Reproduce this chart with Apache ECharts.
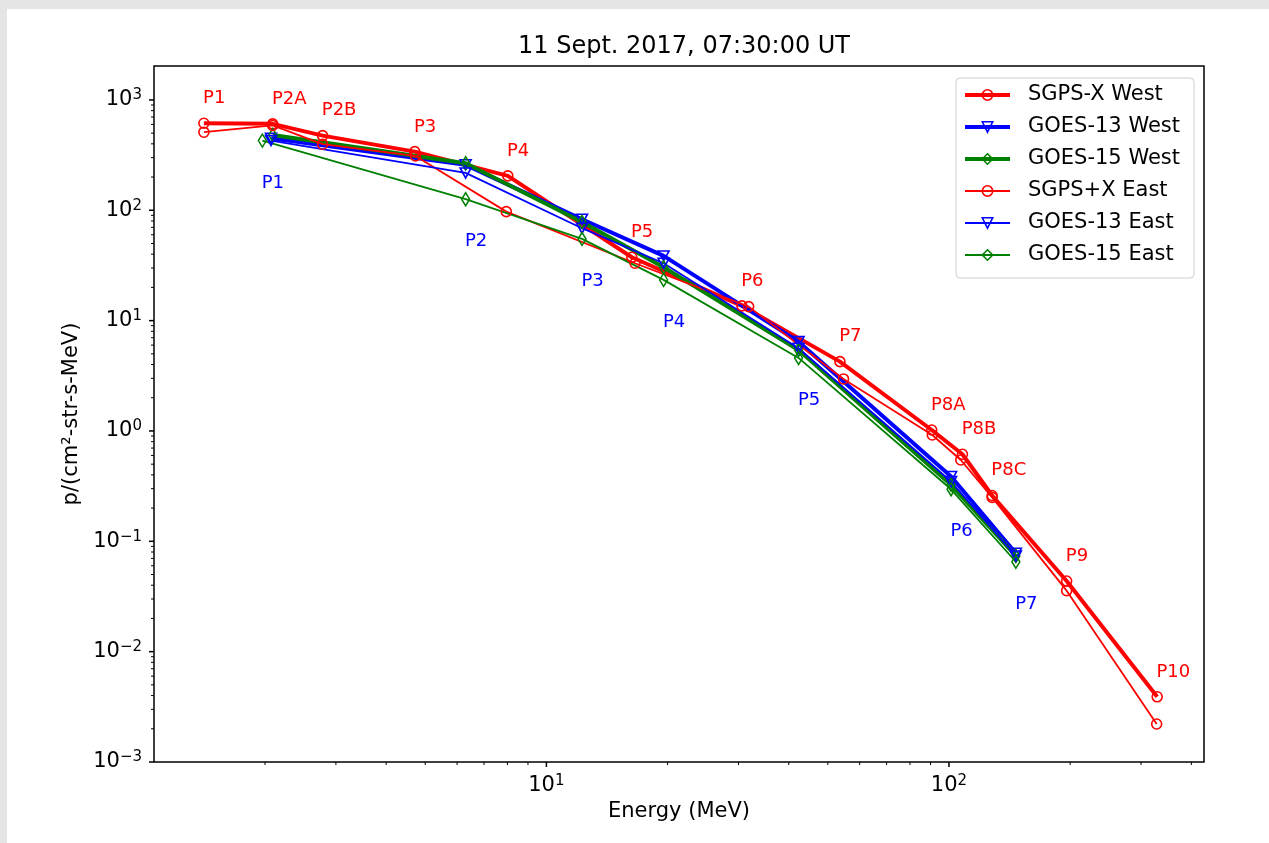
<!DOCTYPE html>
<html><head><meta charset="utf-8">
<script src="https://cdn.jsdelivr.net/npm/echarts@6/dist/echarts.min.js"></script>
<style>html,body{margin:0;padding:0;background:#fff}#c{width:1269px;height:843px}</style>
</head><body><div id="c"></div>
<script>
// ---- data ----
const titleText = '11 Sept. 2017, 07:30:00 UT';
const seriesNames = ['SGPS-X West', 'GOES-13 West', 'GOES-15 West', 'SGPS+X East', 'GOES-13 East', 'GOES-15 East'];

const sgpsChannels = ['P1', 'P2A', 'P2B', 'P3', 'P4', 'P5', 'P6', 'P7', 'P8A', 'P8B', 'P8C', 'P9', 'P10'];
const sgpsWestEnergy = [1.41, 2.09, 2.78, 4.71, 8.02, 16.3, 30.6, 53.6, 90.6, 108, 128, 196, 329];
const sgpsWestFlux   = [615, 607, 475, 340, 205, 37.5, 13.6, 4.25, 1.02, 0.615, 0.26, 0.0437, 0.0039];
const sgpsEastEnergy = [1.41, 2.09, 2.78, 4.73, 7.95, 16.6, 31.8, 54.7, 90.9, 107, 128, 196, 328];
const sgpsEastFlux   = [510, 587, 397, 311, 97.2, 33.1, 13.4, 2.96, 0.92, 0.546, 0.25, 0.0357, 0.00221];

const goesChannels = ['P1', 'P2', 'P3', 'P4', 'P5', 'P6', 'P7'];
const goes13Energy = [2.07, 6.30, 12.26, 19.55, 42.3, 101.2, 146.6];
const goes13WestFlux = [450, 258, 83, 38.6, 6.45, 0.386, 0.078];
const goes13EastFlux = [428, 218, 68.8, 33.1, 5.62, 0.348, 0.0736];
const goes15WestEnergy = [2.09, 6.30, 12.26, 19.55, 42.3, 101.2, 146.6];
const goes15WestFlux = [482, 267, 78.4, 30.5, 5.42, 0.325, 0.0736];
const goes15EastEnergy = [1.97, 6.30, 12.26, 19.55, 42.3, 101.2, 146.6];
const goes15EastFlux = [428, 126, 55, 23.4, 4.59, 0.296, 0.0653];

const xMajorTicks = [10, 100];
const xMinorTicks = [2, 3, 4, 5, 6, 7, 8, 9, 20, 30, 40, 50, 60, 70, 80, 90, 200, 300, 400];
const yMajorTicks = [0.001, 0.01, 0.1, 1, 10, 100, 1000];
const yMinorTicks = [0.002, 0.003, 0.004, 0.005, 0.006, 0.007, 0.008, 0.009,
  0.02, 0.03, 0.04, 0.05, 0.06, 0.07, 0.08, 0.09,
  0.2, 0.3, 0.4, 0.5, 0.6, 0.7, 0.8, 0.9,
  2, 3, 4, 5, 6, 7, 8, 9,
  20, 30, 40, 50, 60, 70, 80, 90,
  200, 300, 400, 500, 600, 700, 800, 900];

// ---- chart ----
const FONT = 'DejaVu Sans';
const RED = '#ff0000', BLUE = '#0000ff', GREEN = '#008000';
const TRI_DOWN = 'path://M0,0L12,0L6,10.4Z';
const THICK = 4, THIN = 1.8;

function pairs(xs, ys, names) {
  return xs.map((x, i) => ({ value: [x, ys[i]], name: names ? names[i] : '' }));
}
function powLabel(v) {
  const e = Math.log10(v), r = Math.round(e);
  if (Math.abs(e - r) > 1e-6) return '';
  const s = r < 0 ? '\u2212' + (-r) : String(r);
  return '{b|10}{s|' + s + '}';
}
const richPow = {
  b: { fontSize: 21, fontFamily: FONT, color: '#000', lineHeight: 24 },
  s: { fontSize: 15, fontFamily: FONT, color: '#000', lineHeight: 16, verticalAlign: 'top' }
};

function lineSeries(name, data, color, width, symbol, symbolSize, label) {
  return {
    name, type: 'line', data,
    symbol, symbolSize,
    lineStyle: { color, width },
    itemStyle: { color: 'rgba(255,255,255,0)', borderColor: color, borderWidth: 1.6 },
    label: label || { show: false },
    emphasis: { disabled: true },
    animation: false, z: 3
  };
}

const sgpsLabel = {
  show: true, formatter: '{b}', color: RED, fontSize: 18, fontFamily: FONT,
  position: [5, -19], align: 'left', verticalAlign: 'middle'
};
const goesLabel = {
  show: true, formatter: '{b}', color: BLUE, fontSize: 18, fontFamily: FONT,
  position: [4, 50], align: 'left', verticalAlign: 'middle'
};

function tickSeries(vals, axis, len, lw) {
  return {
    type: 'custom', silent: true, clip: false, z: 10, animation: false,
    data: vals.map(v => axis === 'x' ? [v, 1] : [10, v]),
    renderItem: (params, api) => {
      const p = api.coord([api.value(0), api.value(1)]);
      const cs = params.coordSys;
      if (axis === 'x') {
        const b = cs.y + cs.height;
        return { type: 'line', shape: { x1: p[0], y1: b, x2: p[0], y2: b + len }, style: { stroke: '#000', lineWidth: lw } };
      }
      return { type: 'line', shape: { x1: cs.x, y1: p[1], x2: cs.x - len, y2: p[1] }, style: { stroke: '#000', lineWidth: lw } };
    }
  };
}

const legendWidths = [THICK, THICK, THICK, THIN, THIN, THIN];

const chart = echarts.init(document.getElementById('c'));
chart.setOption({
  backgroundColor: '#fff',
  animation: false,
  graphic: [
    { type: 'rect', shape: { x: 0, y: 0, width: 1269, height: 9 }, style: { fill: '#e5e5e5' }, silent: true },
    { type: 'rect', shape: { x: 0, y: 0, width: 7, height: 843 }, style: { fill: '#e5e5e5' }, silent: true }
  ],
  title: {
    text: titleText, left: 679, top: 30, textAlign: 'center',
    textStyle: { fontSize: 24, fontWeight: 'normal', fontFamily: FONT, color: '#000' }
  },
  grid: { left: 154, right: 65, top: 66, bottom: 81, show: true, borderColor: '#000', borderWidth: 1.5, backgroundColor: 'transparent' },
  xAxis: {
    type: 'log', logBase: 10, min: 1.06, max: 430,
    name: 'Energy (MeV)', nameLocation: 'middle', nameGap: 39,
    nameTextStyle: { fontSize: 21, fontFamily: FONT, color: '#000' },
    axisLine: { show: false }, axisTick: { show: false }, splitLine: { show: false }, minorTick: { show: false },
    axisLabel: { formatter: powLabel, rich: richPow, margin: 12, showMinLabel: false, showMaxLabel: false }
  },
  yAxis: {
    type: 'log', logBase: 10, min: 0.001, max: 2030,
    name: 'p/(cm\u00b2-str-s-MeV)', nameLocation: 'middle', nameGap: 55, nameRotate: 90,
    nameTextStyle: { fontSize: 21, fontFamily: FONT, color: '#000' },
    axisLine: { show: false }, axisTick: { show: false }, splitLine: { show: false }, minorTick: { show: false },
    axisLabel: { formatter: powLabel, rich: richPow, margin: 12, showMaxLabel: false }
  },
  legend: {
    data: seriesNames.map((n, i) => ({ name: n, lineStyle: { width: legendWidths[i] } })),
    orient: 'vertical', left: 956, top: 78,
    padding: [6, 14, 12, 7], itemWidth: 45, itemHeight: 13, itemGap: 10,
    lineStyle: { width: 'inherit' },
    itemStyle: { borderWidth: 'inherit' },
    backgroundColor: 'rgba(255,255,255,0.8)', borderColor: '#cccccc', borderWidth: 1, borderRadius: 4,
    textStyle: { fontSize: 21, fontFamily: FONT, color: '#000', lineHeight: 22, padding: [0, 0, 0, 13] },
    selectedMode: false
  },
  series: [
    lineSeries(seriesNames[0], pairs(sgpsWestEnergy, sgpsWestFlux, sgpsChannels), RED, THICK, 'circle', 10, sgpsLabel),
    lineSeries(seriesNames[1], pairs(goes13Energy, goes13WestFlux), BLUE, THICK, TRI_DOWN, [11, 10]),
    lineSeries(seriesNames[2], pairs(goes15WestEnergy, goes15WestFlux), GREEN, THICK, 'diamond', [8, 13]),
    lineSeries(seriesNames[3], pairs(sgpsEastEnergy, sgpsEastFlux), RED, THIN, 'circle', 10),
    lineSeries(seriesNames[4], pairs(goes13Energy, goes13EastFlux), BLUE, THIN, TRI_DOWN, [11, 10]),
    lineSeries(seriesNames[5], pairs(goes15EastEnergy, goes15EastFlux, goesChannels), GREEN, THIN, 'diamond', [8, 13], goesLabel),
    tickSeries(xMajorTicks, 'x', 5, 1.5),
    tickSeries(xMinorTicks, 'x', 3, 1),
    tickSeries(yMajorTicks, 'y', 5, 1.5),
    tickSeries(yMinorTicks, 'y', 3, 1)
  ]
});
</script>
</body></html>
